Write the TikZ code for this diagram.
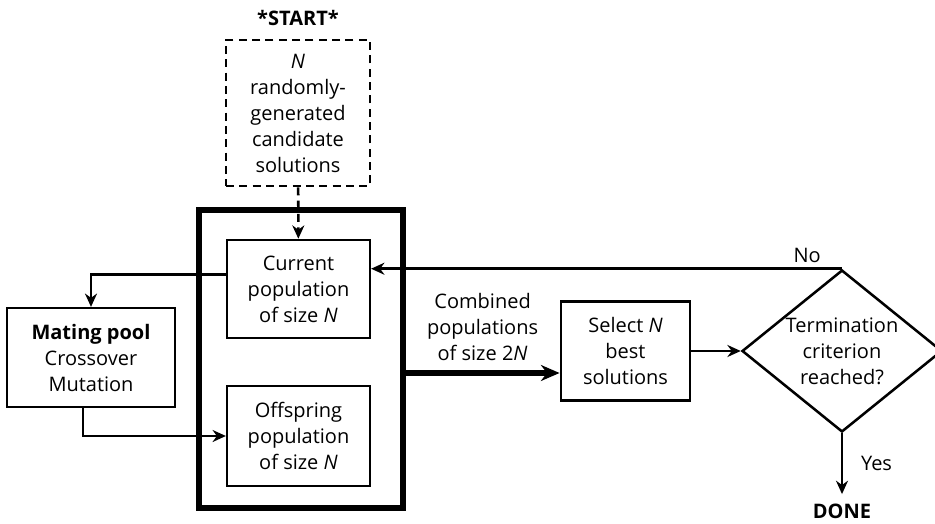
\documentclass[tikz,border=0pt]{standalone}
\usepackage{fontspec}
\setmainfont{Open Sans}
\usepackage{tikz}
\usetikzlibrary{positioning,arrows.meta,shapes.geometric,calc}

\begin{document}
\begin{tikzpicture}[
  x=0.75pt, y=-0.75pt,
  every node/.style={font=\fontsize{15}{19.5}\selectfont, align=center},
  box/.style={rectangle, draw, line width=1.9pt, inner sep=1pt,
              minimum width=#1},
  ar/.style={line width=1.9pt, -{Stealth[length=10pt,width=9pt]}},
  dsh/.style={dash pattern=on 6pt off 4pt},
]
\useasboundingbox (0,0) rectangle (935,524);

\node[font=\fontsize{15}{19.5}\selectfont\bfseries] (start) at (298,18) {*START*};
\node[box=108pt, dsh, minimum height=109.5pt] (init) at (298,113)
    {\textit{N}\\randomly-\\generated\\candidate\\solutions};

\node[rectangle, draw, line width=3.9pt, minimum width=153pt,
      minimum height=223.5pt] (outer) at (301,359) {};
\node[box=107pt, minimum height=73.5pt] (cur) at (298.5,289)
    {Current\\population\\of size \textit{N}};
\node[box=107pt, minimum height=75pt] (off) at (298.5,436)
    {Offspring\\population\\of size \textit{N}};

\node[box=126pt, minimum height=74pt] (mate) at (91,357.5)
    {\textbf{Mating pool}\\Crossover\\Mutation};
\node[box=97pt, minimum height=74pt] (sel) at (625.5,351)
    {Select \textit{N}\\best\\solutions};
\node[diamond, draw, line width=1.9pt, inner sep=0pt, aspect=1.23,
      minimum width=150pt, minimum height=121.5pt] (dec) at (842,351)
    {Termination\\criterion\\reached?};
\node[font=\fontsize{15}{19.5}\selectfont\bfseries, inner sep=1pt] (done) at (842,511) {DONE};

\draw[ar, dsh] (init) -- (cur);
\draw[ar] ([yshift=11pt]cur.west) -| (mate.north);
\draw[ar] ([xshift=-6pt]mate.south) |- (off.west);
\draw[line width=3.9pt, -{Stealth[length=14pt,width=12pt]}]
    ([yshift=-10.5pt]outer.east) -- ([yshift=-10.5pt]sel.west |- outer.east)
    node[midway, above=4pt] {Combined\\populations\\of size 2\textit{N}};
\draw[ar] (sel) -- (dec);
\draw[ar] (dec.north) -- (cur.east |- dec.north)
    node[pos=0.074, above] {No};
\draw[ar] (dec.south) -- ([yshift=6pt]done.north)
    node[midway, right=10pt] {Yes};
\end{tikzpicture}
\end{document}
